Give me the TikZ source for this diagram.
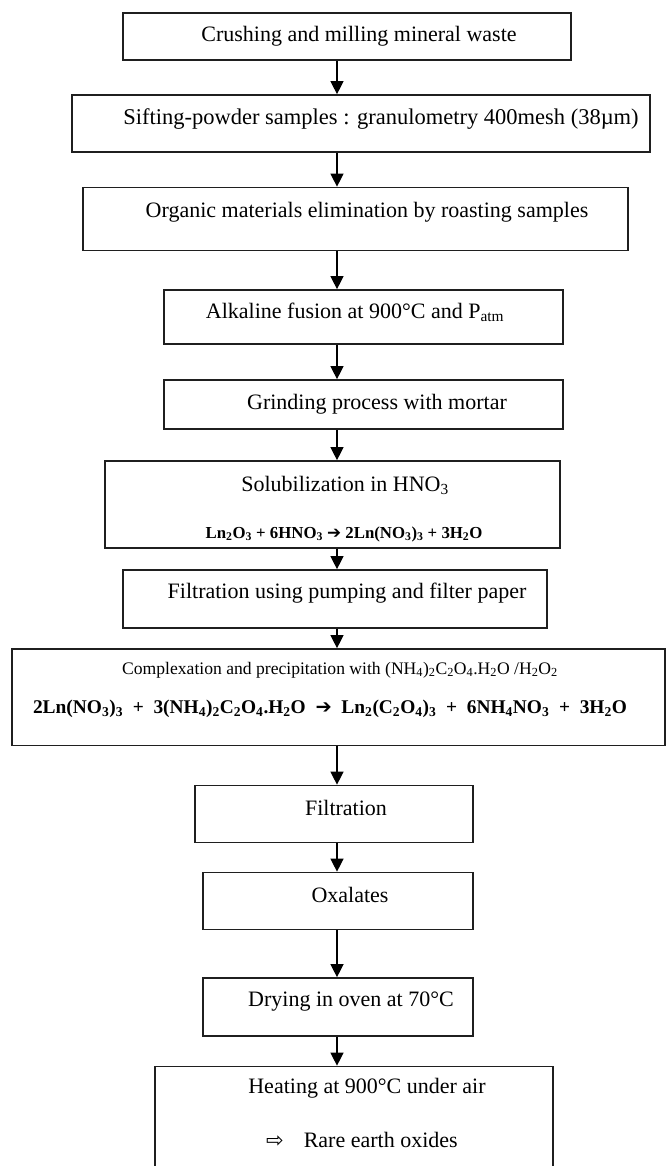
\documentclass[tikz,border=0pt]{standalone}
\usepackage{fontspec}
\setmainfont{Liberation Serif}
\newfontfamily\djv{DejaVu Sans}
\usetikzlibrary{arrows.meta}
\newcommand\sbt[1]{\textsubscript{#1}}
\begin{document}
\begin{tikzpicture}[x=1pt,y=-1pt,
  box/.style={draw=black!88, line width=1.7pt, inner sep=0pt},
  lbl/.style={inner sep=0pt, font=\fontsize{22}{26}\selectfont},
  eqa/.style={inner sep=0pt, font=\fontsize{16.8}{20}\selectfont\bfseries},
  eqb/.style={inner sep=0pt, font=\fontsize{19.4}{23}\selectfont\bfseries},
  arr/.style={draw=black, line width=1.3pt, -{Triangle[width=13pt,length=13pt]}}]
\useasboundingbox (0,0) rectangle (666,1166);
\fill[white] (0,0) rectangle (666,1166);
\clip (0,0) rectangle (666,1166);
% boxes
\node[box, minimum width=448pt, minimum height=47pt] (b1) at (347,36.5) {};
\node[box, minimum width=578pt, minimum height=57pt] (b2) at (361,123.5) {};
\node[box, minimum width=545pt, minimum height=63pt] (b3) at (355.5,219) {};
\node[box, minimum width=399pt, minimum height=54pt] (b4) at (363.5,317) {};
\node[box, minimum width=399pt, minimum height=49pt] (b5) at (363.5,404.5) {};
\node[box, minimum width=455pt, minimum height=87pt] (b6) at (332.5,504.5) {};
\node[box, minimum width=424pt, minimum height=58pt] (b7) at (335,599) {};
\node[box, minimum width=653pt, minimum height=96.5pt] (b8) at (338.5,697.25) {};
\node[box, minimum width=278pt, minimum height=57pt] (b9) at (334,814) {};
\node[box, minimum width=270pt, minimum height=57pt] (b10) at (338,901) {};
\node[box, minimum width=270pt, minimum height=58pt] (b11) at (338,1007) {};
\node[box, minimum width=398pt, minimum height=113.5pt] (b12) at (354,1123.25) {};
% texts
\node[lbl] (t1) at (359,36.5) {Crushing and milling mineral waste};
\node[lbl, font=\fontsize{22.5}{26}\selectfont] (t2) at (381,119.5) {Sifting-powder samples : granulometry 400mesh (38µm)};
\node[lbl] (t3) at (367,212) {Organic materials elimination by roasting samples};
\node[lbl] (t4) at (355,312) {Alkaline fusion at 900°C and P\sbt{atm}};
\node[lbl] (t5) at (377,404) {Grinding process with mortar};
\node[lbl] (t6a) at (345,485) {Solubilization in HNO\sbt{3}};
\node[eqa] (t6b) at (344,534) {Ln\sbt{2}O\sbt{3} + 6HNO\sbt{3} {\djv ➔} 2Ln(NO\sbt{3})\sbt{3} + 3H\sbt{2}O};
\node[lbl] (t7) at (347,593) {Filtration using pumping and filter paper};
\node[lbl, font=\fontsize{17.6}{21}\selectfont] (t8a) at (340,670) {Complexation and precipitation with (NH\sbt{4})\sbt{2}C\sbt{2}O\sbt{4}.H\sbt{2}O /H\sbt{2}O\sbt{2}};
\node[eqb] (t8b) at (330,709) {2Ln(NO\sbt{3})\sbt{3}\ \ +\ \ 3(NH\sbt{4})\sbt{2}C\sbt{2}O\sbt{4}.H\sbt{2}O\ \ {\djv ➔}\ \ Ln\sbt{2}(C\sbt{2}O\sbt{4})\sbt{3}\ \ +\ \ 6NH\sbt{4}NO\sbt{3}\ \ +\ \ 3H\sbt{2}O};
\node[lbl] (t9) at (346,808) {Filtration};
\node[lbl] (t10) at (350,895) {Oxalates};
\node[lbl] (t11) at (351,1002) {Drying in oven at 70°C};
\node[lbl] (t12a) at (367,1088) {Heating at 900°C under air};
\node[lbl, anchor=west] (t12b) at (266,1140) {{\djv\fontsize{21}{24}\selectfont ⇨}\hspace{20pt}Rare earth oxides};
% connectors
\coordinate (ax) at (337,0);
\foreach \a/\b in {b1/b2,b2/b3,b3/b4,b4/b5,b5/b6,b6/b7,b7/b8,b8/b9,b9/b10,b10/b11,b11/b12}
  \draw[arr] (\a.south -| ax) -- (\b.north -| ax);
\end{tikzpicture}
\end{document}
